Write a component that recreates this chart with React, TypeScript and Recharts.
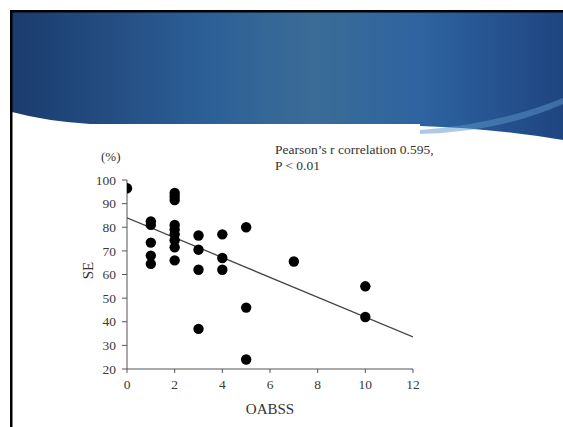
import React from "react";
import {
  ScatterChart,
  Scatter,
  XAxis,
  YAxis,
  Label,
} from "recharts";

// OABSS score (x) and SE % (y) for each patient
const oabss = [
  0,
  1, 1, 1, 1, 1,
  2, 2, 2, 2, 2, 2, 2, 2, 2,
  3, 3, 3, 3,
  4, 4, 4,
  5, 5, 5,
  7,
  10, 10,
];
const se = [
  96.5,
  82.5, 81, 73.5, 68, 64.5,
  94.5, 93, 91.5, 81, 79, 77, 74.5, 71.5, 66,
  76.5, 70.5, 62, 37,
  77, 67, 62,
  80, 46, 24,
  65.5,
  55, 42,
];

// regression line end points
const trendX = [0, 12];
const trendY = [84, 33.6];

const xTicks = [0, 2, 4, 6, 8, 10, 12];
const yTicks = [20, 30, 40, 50, 60, 70, 80, 90, 100];

const points = oabss.map((x, i) => ({ x, y: se[i] }));
const trend = trendX.map((x, i) => ({ x, y: trendY[i] }));

const serif = "'Liberation Serif', 'Times New Roman', serif";

const Dot = (props: any) => (
  <circle cx={props.cx} cy={props.cy} r={5.2} fill="#000" />
);

const XTick = (props: any) => (
  <text
    x={props.x}
    y={props.y + 4}
    dy="0.71em"
    textAnchor="middle"
    style={{ fontFamily: serif, fontSize: 13.5, fill: "#3a3a3a" }}
  >
    {props.payload.value}
  </text>
);

const YTick = (props: any) => (
  <text
    x={props.x - 4}
    y={props.y}
    dy="0.35em"
    textAnchor="end"
    style={{ fontFamily: serif, fontSize: 13.5, fill: "#3a3a3a" }}
  >
    {props.payload.value}
  </text>
);

function Header() {
  return (
    <svg
      width={563}
      height={427}
      style={{ position: "absolute", left: 0, top: 0 }}
    >
      <defs>
        <linearGradient id="hdr" x1="0" y1="0" x2="1" y2="0">
          <stop offset="0" stopColor="#1b3b6d" />
          <stop offset="0.35" stopColor="#2c5f96" />
          <stop offset="0.55" stopColor="#3b6c97" />
          <stop offset="0.75" stopColor="#2d63a0" />
          <stop offset="1" stopColor="#1e4580" />
        </linearGradient>
      </defs>
      <path
        d="M12,12 H563 V140 Q490,128 420,126 L420,124 H90 Q45,121 12,112 Z"
        fill="url(#hdr)"
      />
      <path
        d="M420,130 Q500,124 563,98 V104 Q500,132 420,134 Z"
        fill="#5d96c8"
        opacity={0.5}
      />
      <rect x={10} y={10} width={553} height={2.5} fill="#000" />
      <rect x={10} y={10} width={2.5} height={417} fill="#000" />
    </svg>
  );
}

export default function App() {
  return (
    <div
      style={{
        position: "absolute",
        left: 0,
        top: 0,
        width: 563,
        height: 427,
        background: "#fff",
        overflow: "hidden",
        fontFamily: serif,
      }}
    >
      <Header />
      <div style={{ position: "absolute", left: 0, top: 0 }}>
        <ScatterChart
          width={563}
          height={427}
          margin={{ top: 180, right: 150, bottom: 13, left: 87 }}
        >
          <XAxis
            type="number"
            dataKey="x"
            domain={[0, 12]}
            ticks={xTicks}
            height={45}
            stroke="#555"
            tickSize={4}
            tick={<XTick />}
            allowDataOverflow
          >
            <Label
              value="OABSS"
              position="insideBottom"
              offset={0}
              style={{ fontFamily: serif, fontSize: 15, fill: "#333" }}
            />
          </XAxis>
          <YAxis
            type="number"
            dataKey="y"
            domain={[20, 100]}
            ticks={yTicks}
            width={40}
            stroke="#555"
            tickSize={5}
            tick={<YTick />}
            allowDataOverflow
          >
            <Label
              value="SE"
              position="center"
              angle={-90}
              dx={-19}
              dy={-4}
              style={{ fontFamily: serif, fontSize: 15, fill: "#333" }}
            />
          </YAxis>
          <Scatter
            data={trend}
            line={{ stroke: "#444", strokeWidth: 1.3 }}
            shape={() => <g />}
            isAnimationActive={false}
          />
          <Scatter data={points} shape={Dot} isAnimationActive={false} />
        </ScatterChart>
      </div>
      <div
        style={{
          position: "absolute",
          left: 101,
          top: 149,
          fontSize: 13,
          color: "#333",
        }}
      >
        (%)
      </div>
      <div
        style={{
          position: "absolute",
          left: 275,
          top: 142,
          fontSize: 13.5,
          lineHeight: "16px",
          color: "#333",
        }}
      >
        Pearson’s r correlation 0.595,
        <br />
        P &lt; 0.01
      </div>
    </div>
  );
}
